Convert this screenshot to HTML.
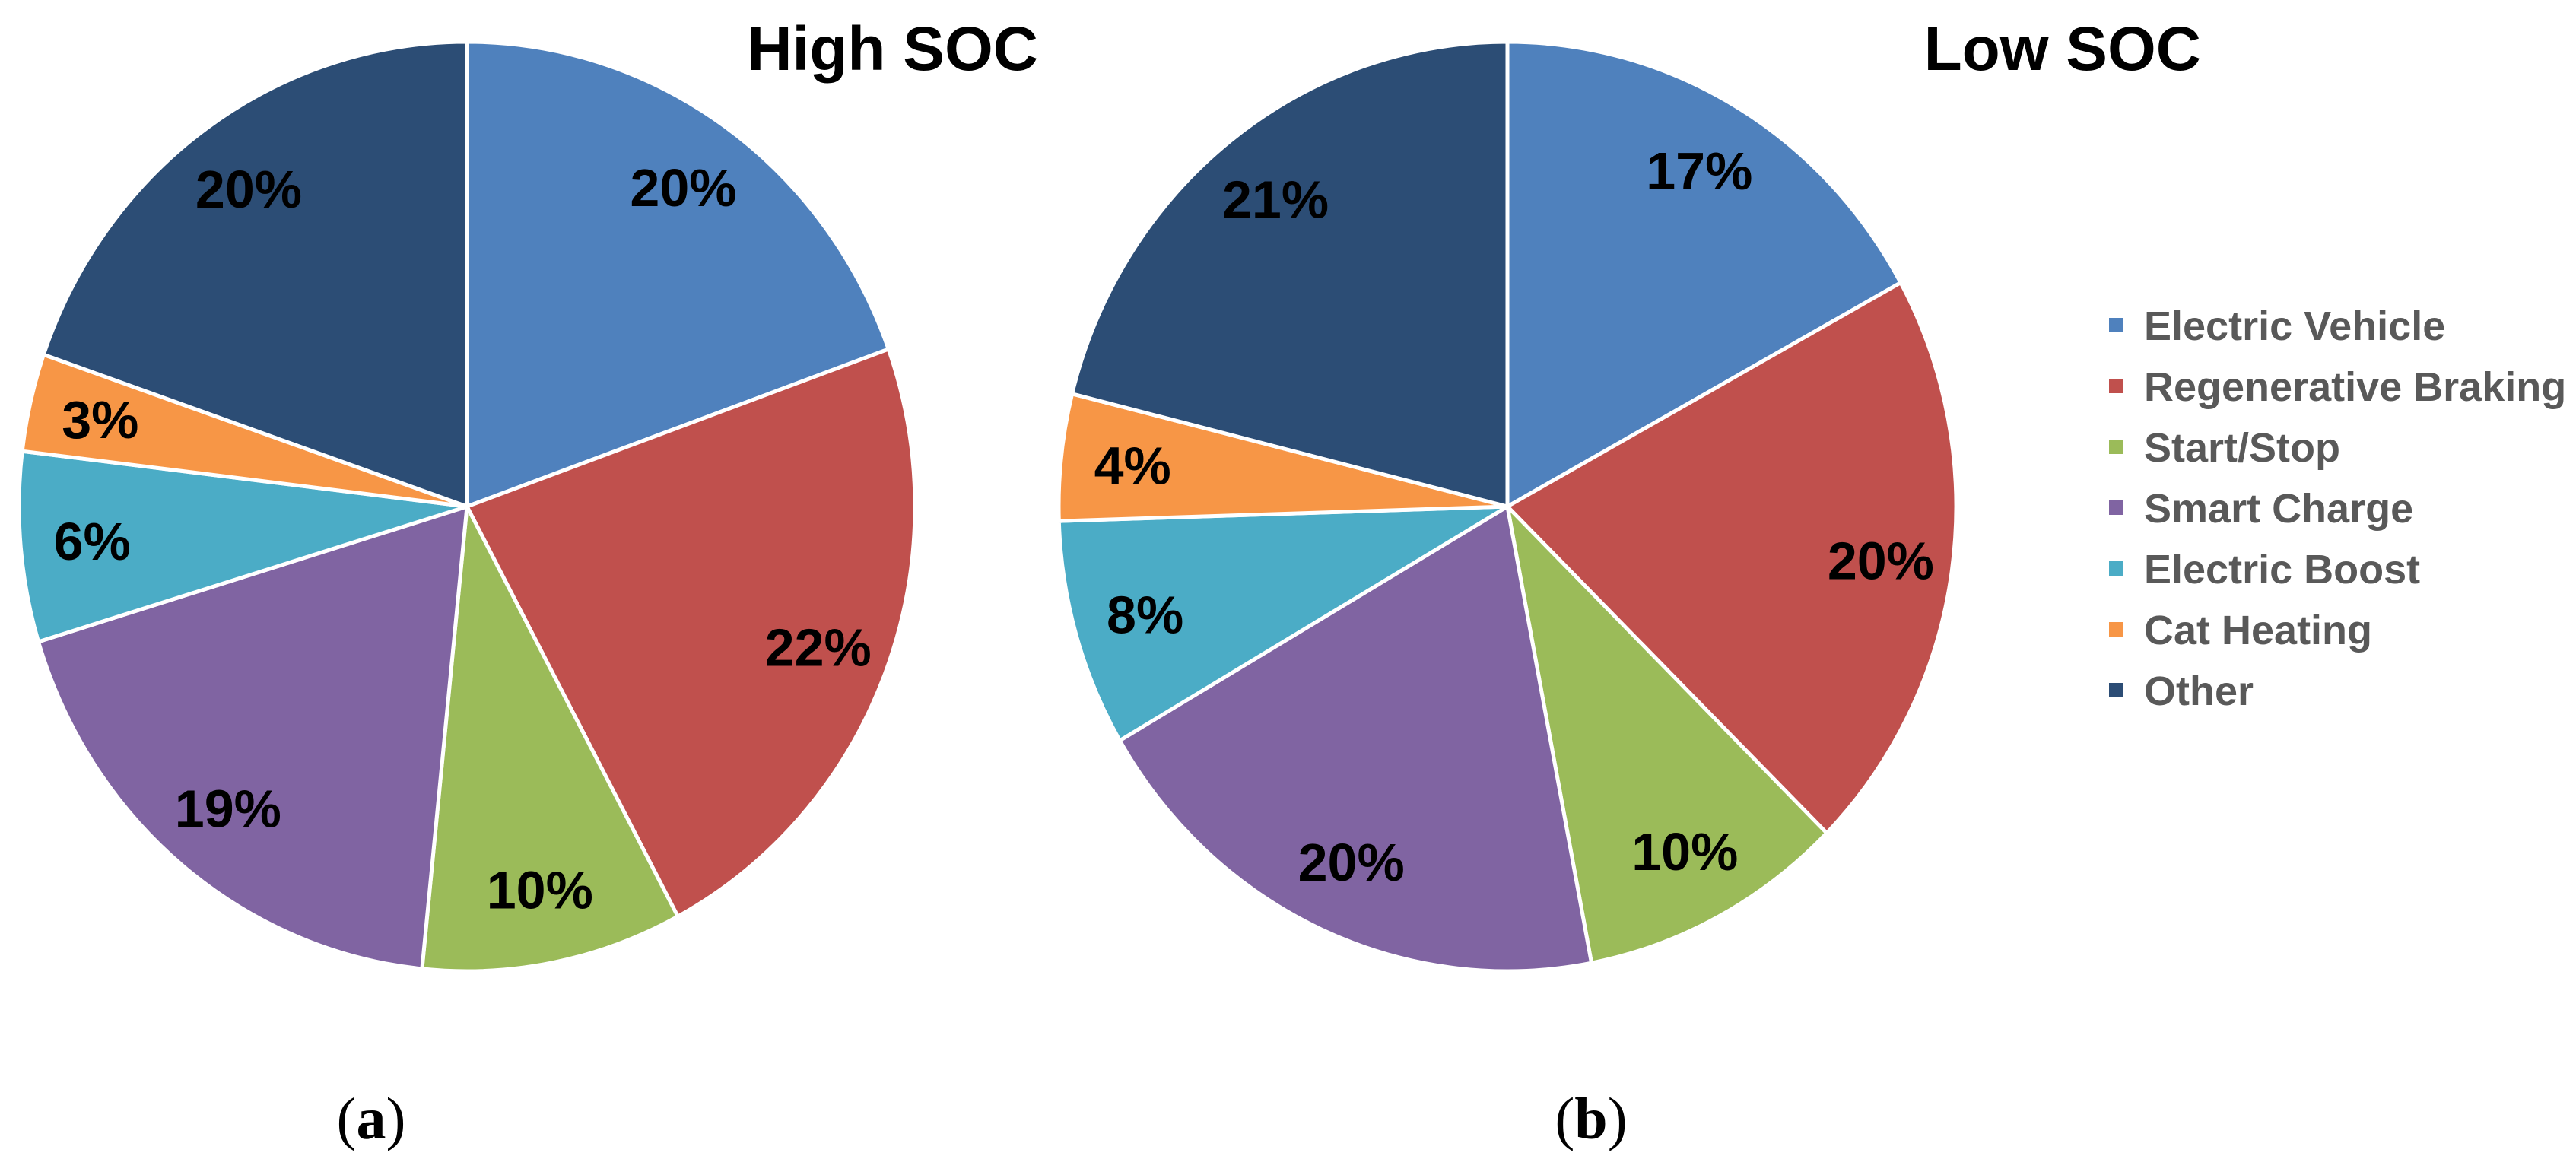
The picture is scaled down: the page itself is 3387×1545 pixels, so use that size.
<!DOCTYPE html>
<html><head><meta charset="utf-8"><style>
html,body{margin:0;padding:0;background:#fff;}
svg{display:block;}
</style></head><body>
<svg id="chart" width="3387" height="1545" viewBox="0 0 3387 1545" xmlns="http://www.w3.org/2000/svg">
<rect width="3387" height="1545" fill="#fff"/>
<g id="pies"></g>
<text x="1365" y="92" text-anchor="end" font-family="Liberation Sans, sans-serif" font-weight="bold" font-size="82" fill="#000">High SOC</text>
<text x="2894" y="92" text-anchor="end" font-family="Liberation Sans, sans-serif" font-weight="bold" font-size="82" fill="#000">Low SOC</text>
<text x="488" y="1497" text-anchor="middle" font-family="Liberation Serif, serif" font-size="78" fill="#000">(<tspan font-weight="bold">a</tspan>)</text>
<text x="2092" y="1497" text-anchor="middle" font-family="Liberation Serif, serif" font-size="78" fill="#000">(<tspan font-weight="bold">b</tspan>)</text>
<g id="legend"></g>
</svg>
<script>
const categories = ["Electric Vehicle","Regenerative Braking","Start/Stop","Smart Charge","Electric Boost","Cat Heating","Other"];
const colors = ["#4F81BD","#C0504D","#9BBB59","#8064A2","#4BACC6","#F79646","#2C4D75"];
const highSOC = [19.5,22.7,9.4,18.7,6.6,3.4,19.7];
const lowSOC = [17.0,20.4,9.6,19.6,7.9,4.4,21.1];
const highLabels = ["20%","22%","10%","19%","6%","3%","20%"];
const lowLabels = ["17%","20%","10%","20%","8%","4%","21%"];

const NS = "http://www.w3.org/2000/svg";
const pies = document.getElementById("pies");
function pt(cx,cy,rx,ry,frac){const a=frac*2*Math.PI;return [cx+rx*Math.sin(a), cy-ry*Math.cos(a)];}
function drawPie(name, values, labels, cx, cy, rx, ry){
  const g = document.createElementNS(NS,"g");
  
  
  pies.appendChild(g);
  const total = values.reduce((a,b)=>a+b,0);
  let cum = 0;
  values.forEach((v,i)=>{
    const f0 = cum/total, f1 = (cum+v)/total; cum += v;
    const p0 = pt(cx,cy,rx,ry,f0), p1 = pt(cx,cy,rx,ry,f1);
    const large = (f1-f0) > 0.5 ? 1 : 0;
    const path = document.createElementNS(NS,"path");
    path.setAttribute("d", `M${cx},${cy} L${p0[0]},${p0[1]} A${rx},${ry} 0 ${large} 1 ${p1[0]},${p1[1]} Z`);
    path.setAttribute("fill", colors[i]);
    path.setAttribute("stroke", "#fff");
    path.setAttribute("stroke-width", "5");
    path.setAttribute("stroke-linejoin", "round");
    
    
    g.appendChild(path);
  });
  cum = 0;
  values.forEach((v,i)=>{
    const mid = (cum + v/2)/total; cum += v;
    const p = pt(cx,cy,rx*0.84,ry*0.84,mid);
    const t = document.createElementNS(NS,"text");
    t.setAttribute("x", p[0]); t.setAttribute("y", p[1]+25);
    t.setAttribute("text-anchor","middle");
    t.setAttribute("font-family","Liberation Sans, sans-serif");
    t.setAttribute("font-weight","bold");
    t.setAttribute("font-size","70");
    t.setAttribute("fill","#000");
    t.textContent = labels[i];
    
    
    g.appendChild(t);
  });
}
drawPie("pie-high-soc", highSOC, highLabels, 614, 666, 589, 611);
drawPie("pie-low-soc", lowSOC, lowLabels, 1982, 666, 590, 611);

const legend = document.getElementById("legend");
categories.forEach((c,i)=>{
  const y = 447 + i*80;
  const r = document.createElementNS(NS,"rect");
  r.setAttribute("x", 2773); r.setAttribute("y", y-29); r.setAttribute("width", 19); r.setAttribute("height", 19);
  r.setAttribute("fill", colors[i]);
  
  
  legend.appendChild(r);
  const t = document.createElementNS(NS,"text");
  t.setAttribute("x", 2819); t.setAttribute("y", y);
  t.setAttribute("font-family","Liberation Sans, sans-serif");
  t.setAttribute("font-weight","bold");
  t.setAttribute("font-size","54");
  t.setAttribute("fill","#595959");
  t.textContent = c;
  
  
  legend.appendChild(t);
});
</script>
</body></html>
